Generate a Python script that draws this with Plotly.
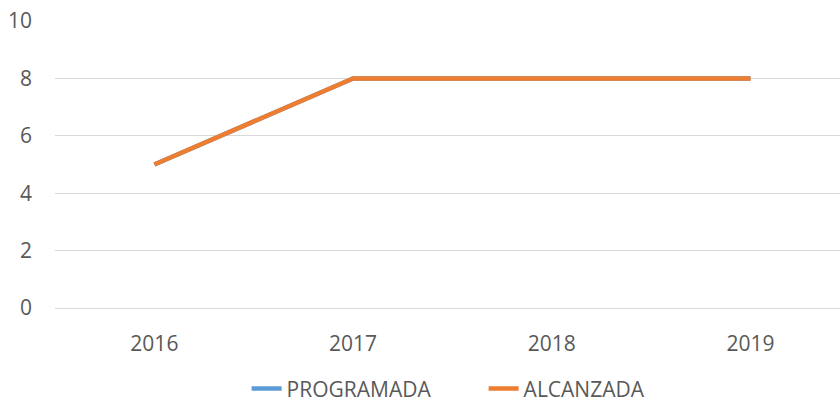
import plotly.graph_objects as go

years = ["2016", "2017", "2018", "2019"]
programada = [5, 8, 8, 8]
alcanzada = [5, 8, 8, 8]

fig = go.Figure()
fig.add_trace(go.Scatter(x=years, y=programada, name="PROGRAMADA", mode="lines",
                         line=dict(color="#5B9BD5", width=4.5)))
fig.add_trace(go.Scatter(x=years, y=alcanzada, name="ALCANZADA", mode="lines",
                         line=dict(color="#ED7D31", width=4.5)))

fig.update_layout(
    width=840, height=403,
    margin=dict(l=55, r=0, t=21, b=95, autoexpand=False),
    paper_bgcolor="white", plot_bgcolor="white",
    font=dict(family="Open Sans, Liberation Sans, sans-serif", size=21, color="#595959"),
    showlegend=True,
    legend=dict(orientation="h", x=0.546, xanchor="center", y=-0.21, yanchor="top",
                font=dict(size=21, color="#595959"), entrywidth=192, tracegroupgap=0),
)
fig.update_xaxes(type="category", range=[-0.5, 3.45], showgrid=False, showline=False,
                 ticks="", ticklabelstandoff=21, automargin=False, fixedrange=True)
fig.update_yaxes(range=[0, 10], dtick=2, showgrid=True, gridcolor="#D9D9D9", gridwidth=1,
                 zeroline=True, zerolinecolor="#D9D9D9", zerolinewidth=1,
                 showline=False, ticks="", ticklabelstandoff=22, automargin=False)

# browser default body margin would shift the chart by 8px
fig.write_html("out.html", config={"displayModeBar": False},
               post_script="document.body.style.margin='0';")
